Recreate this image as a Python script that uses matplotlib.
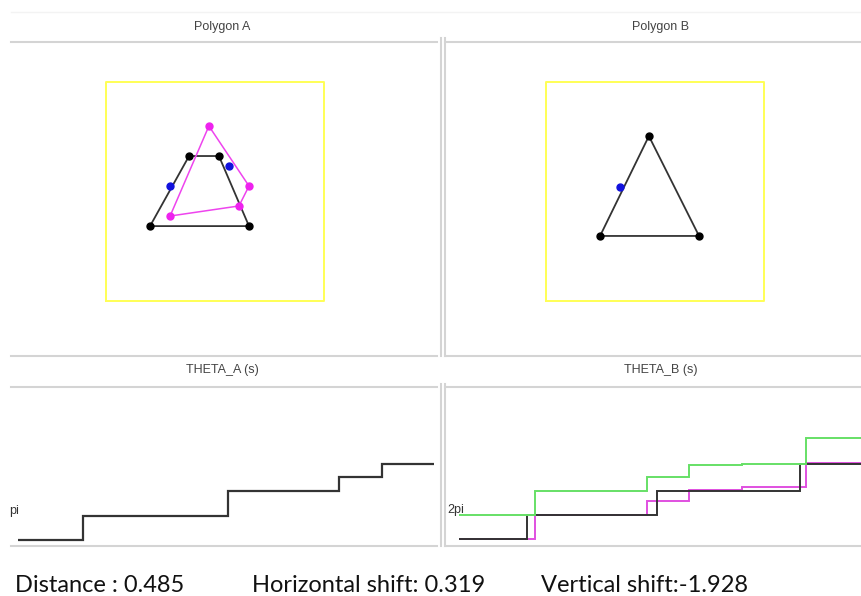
import matplotlib
matplotlib.use("Agg")
import matplotlib.pyplot as plt
from matplotlib.lines import Line2D
import numpy as np

W, H = 862, 596

# ---------------- data ----------------
square_x = [0, 1, 1, 0, 0]
square_y = [0, 0, 1, 1, 0]

polyA_x = [0.202, 0.656, 0.518, 0.381]
polyA_y = [0.342, 0.342, 0.662, 0.662]
polyA_pts_x = [0.294, 0.564]
polyA_pts_y = [0.525, 0.616]

polyM_x = [0.472, 0.656, 0.610, 0.294]
polyM_y = [0.799, 0.525, 0.434, 0.388]

polyB_x = [0.472, 0.702, 0.248]
polyB_y = [0.753, 0.297, 0.297]
polyB_pts_x = [0.339]
polyB_pts_y = [0.521]

thetaA_edges = [0.0, 0.156, 0.505, 0.772, 0.875, 1.0]
thetaA_vals = [0.745, 2.728, 4.795, 5.952, 7.026]

thetaB_black_edges = [0.0, 0.163, 0.476, 0.820, 1.0]
thetaB_black_vals = [3.89, 5.87, 7.85, 10.09]

thetaB_mag_edges = [0.0, 0.183, 0.452, 0.553, 0.680, 0.834, 1.0]
thetaB_mag_vals = [3.89, 5.87, 7.03, 7.94, 8.18, 10.17]

thetaB_green_edges = [0.0, 0.183, 0.452, 0.553, 0.680, 0.834, 1.0]
thetaB_green_vals = [5.87, 7.85, 9.01, 10.00, 10.09, 12.23]

titles = ["Polygon A", "Polygon B", "THETA_A (s)", "THETA_B (s)"]
ytick_labels = ["pi", "2pi"]
ytick_vals = [np.pi, 2 * np.pi]
footer = ["Distance : 0.485", "Horizontal shift: 0.319", "Vertical shift:-1.928"]

# ---------------- layout helpers ----------------
fig = plt.figure(figsize=(W / 100, H / 100), dpi=100)
fig.patch.set_facecolor("white")


def rect(x0, y0, x1, y1):
    return [x0 / W, 1 - y1 / H, (x1 - x0) / W, (y1 - y0) / H]


def hline(y, x0, x1, color="#d4d4d4", lw=1.5):
    fig.add_artist(Line2D([x0 / W, x1 / W], [1 - y / H, 1 - y / H],
                          transform=fig.transFigure, color=color, lw=lw))


def vline(x, y0, y1, color="#d4d4d4", lw=1.5):
    fig.add_artist(Line2D([x / W, x / W], [1 - y0 / H, 1 - y1 / H],
                          transform=fig.transFigure, color=color, lw=lw))


def clean(ax):
    for s in ax.spines.values():
        s.set_visible(False)
    ax.set_xticks([])
    ax.set_yticks([])
    ax.patch.set_alpha(0)


# frame lines
hline(12, 11, 862, color="#f3f3f3", lw=1.0)
hline(41.5, 11, 437)
hline(41.5, 445, 862)
hline(356, 11, 437)
hline(356, 445, 862)
hline(387, 11, 437)
hline(387, 445, 862)
hline(546, 11, 437)
hline(546, 445, 862)
for x in (441, 445):
    vline(x, 38, 356)
    vline(x, 384, 546)

# titles
title_font = dict(family="Liberation Sans", size=9, color="#444444", ha="center", va="center")
fig.text(222 / W, 1 - 27 / H, titles[0], **title_font)
fig.text(661 / W, 1 - 27 / H, titles[1], **title_font)
fig.text(222 / W, 1 - 370 / H, titles[2], **title_font)
fig.text(661 / W, 1 - 370 / H, titles[3], **title_font)

# ---------------- polygon panels ----------------
# yellow square spans px x 106..324 (A), 546..764 (B); y 82..301
sx, sy = 218.0, 219.0
axA = fig.add_axes(rect(12, 42, 441, 356))
axA.set_xlim((12 - 106) / sx, (441 - 106) / sx)
axA.set_ylim((301 - 356) / sy, (301 - 42) / sy)
clean(axA)

axB = fig.add_axes(rect(445, 42, 862, 356))
axB.set_xlim((445 - 546) / sx, (862 - 546) / sx)
axB.set_ylim((301 - 356) / sy, (301 - 42) / sy)
clean(axB)

yellow = "#ffff55"
for ax in (axA, axB):
    ax.plot(square_x, square_y, color=yellow, lw=1.4)

# polygon A (black) with vertices
axA.plot(polyA_x + polyA_x[:1], polyA_y + polyA_y[:1], color="#333333", lw=1.3, zorder=3)
axA.plot(polyA_x, polyA_y, "o", color="black", ms=5, zorder=5)
# magenta polygon
axA.plot(polyM_x + polyM_x[:1], polyM_y + polyM_y[:1], color="#ee44ee", lw=1.1, zorder=4)
axA.plot(polyM_x, polyM_y, "o", color="#ee22ee", ms=5, zorder=6)
# blue start points
axA.plot(polyA_pts_x, polyA_pts_y, "o", color="#1111dd", ms=5, zorder=6)

# polygon B
axB.plot(polyB_x + polyB_x[:1], polyB_y + polyB_y[:1], color="#333333", lw=1.3, zorder=3)
axB.plot(polyB_x, polyB_y, "o", color="black", ms=5, zorder=5)
axB.plot(polyB_pts_x, polyB_pts_y, "o", color="#1111dd", ms=5, zorder=6)

# ---------------- theta panels ----------------
ppr = 12.1  # pixels per radian
axTA = fig.add_axes(rect(12, 388, 441, 546))
axTA.set_xlim((12 - 18) / 416, (441 - 18) / 416)
axTA.set_ylim(np.pi - (546 - 511) / ppr, np.pi + (511 - 388) / ppr)
clean(axTA)
axTA.stairs(thetaA_vals, thetaA_edges, color="#333333", lw=1.6, baseline=None)
axTA.text(-3 / 429, ytick_vals[0], ytick_labels[0], transform=axTA.get_yaxis_transform(),
          family="Liberation Sans", size=9, color="#333333", ha="left", va="center")

axTB = fig.add_axes(rect(445, 388, 862, 546))
axTB.set_xlim((445 - 459) / 416, (862 - 459) / 416)
axTB.set_ylim(2 * np.pi - (546 - 510) / ppr, 2 * np.pi + (510 - 388) / ppr)
clean(axTB)
axTB.stairs(thetaB_mag_vals, thetaB_mag_edges, color="#e050e0", lw=1.4, baseline=None, zorder=2)
axTB.stairs(thetaB_black_vals, thetaB_black_edges, color="#333333", lw=1.4, baseline=None, zorder=3)
axTB.stairs(thetaB_green_vals, thetaB_green_edges, color="#66e066", lw=1.4, baseline=None, zorder=4)
axTB.text(2 / 417, ytick_vals[1], ytick_labels[1], transform=axTB.get_yaxis_transform(),
          family="Liberation Sans", size=9, color="#333333", ha="left", va="center")

# ---------------- footer ----------------
foot_font = dict(family="Lato", size=17, color="#111111", ha="left", va="baseline")
fig.text(15 / W, 1 - 592 / H, footer[0], **foot_font)
fig.text(252 / W, 1 - 592 / H, footer[1], **foot_font)
fig.text(541 / W, 1 - 592 / H, footer[2], **foot_font)

fig.savefig("out.png", dpi=100, facecolor="white")
